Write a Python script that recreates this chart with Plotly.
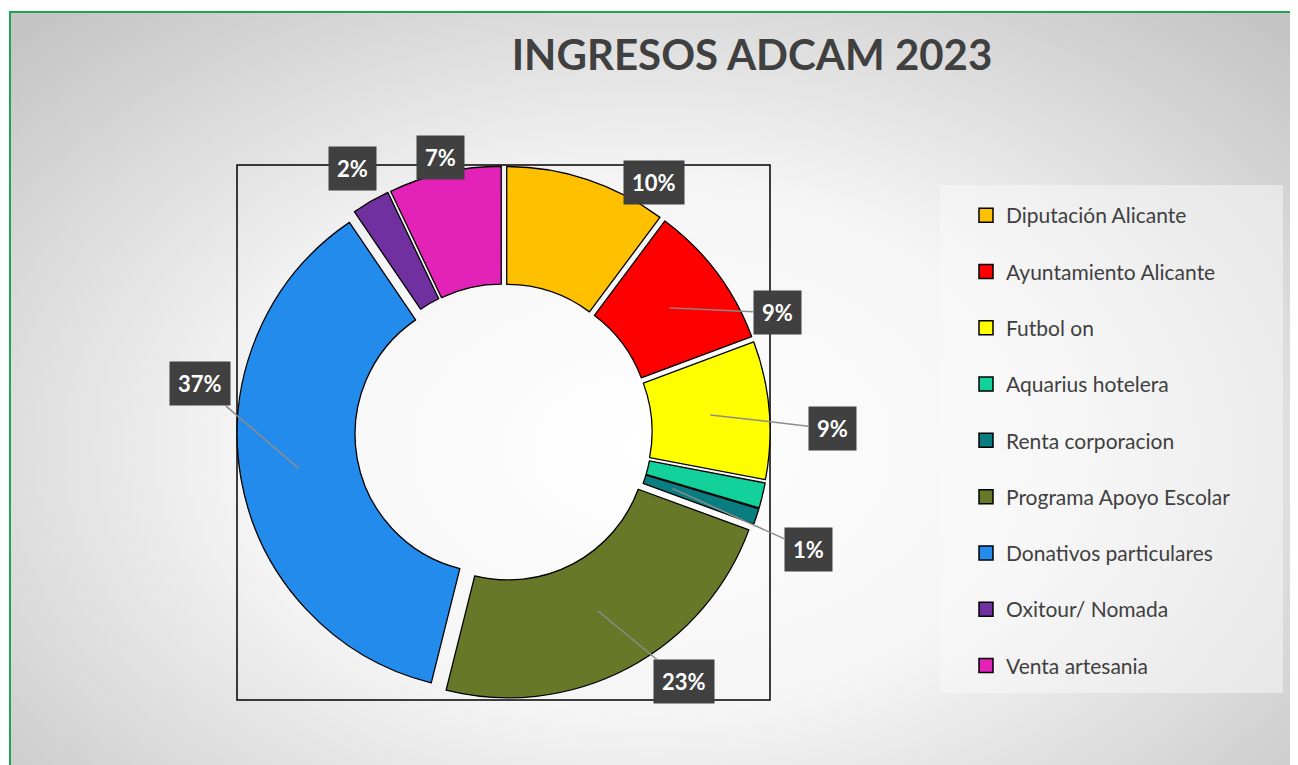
import math
import base64
import plotly.graph_objects as go

# datos
categorias = ['Diputación Alicante', 'Ayuntamiento Alicante', 'Futbol on',
              'Aquarius hotelera', 'Renta corporacion', 'Programa Apoyo Escolar',
              'Donativos particulares', 'Oxitour/ Nomada', 'Venta artesania']
valores = [10.2, 9.1, 8.7, 1.6, 1.0, 23.3, 36.6, 2.4, 7.1]
colores = ['#FFC000', '#FF0000', '#FFFF00', '#12D19B', '#0A7D80',
           '#677828', '#228BEC', '#7030A0', '#E322B8']
mostrar_etiqueta = [True, True, True, False, True, True, True, True, True]

W, H = 1298, 765
OFF = 8  # margen del body de la pagina


def fx(p):
    return (p - OFF) / W


def fy(p):
    return 1 - (p - OFF) / H


# zona del grafico (pixeles de pantalla)
px0, px1, py0, py1 = 237, 770, 165, 700
hole = 0.54
pull = 0.04

# desplazamiento de cada etiqueta (pixeles) y si lleva linea guia
etiqueta_pos = [
    dict(f=0.5, ax=85, ay=-53, linea=False),
    dict(f=0.5, ax=108, ay=5, linea=True),
    dict(f=0.5, ax=122, ay=14, linea=True),
    dict(f=0.5, ax=0, ay=0, linea=False),
    dict(f=0.25, ax=136, ay=61, linea=True),
    dict(f=0.45, ax=86, ay=71, linea=True),
    dict(f=0.5, ax=-99, ay=-85, linea=True),
    dict(f=0.5, ax=-48, ay=-84, linea=False),
    dict(f=0.5, ax=-17, ay=-73, linea=False),
]

FONT = 'Lato'

fig = go.Figure()

fig.add_trace(go.Pie(
    labels=categorias,
    values=valores,
    sort=False,
    direction='clockwise',
    rotation=0,
    hole=hole,
    pull=[pull] * len(valores),
    marker=dict(colors=colores, line=dict(color='black', width=1.3)),
    textinfo='none',
    showlegend=False,
    domain=dict(x=[fx(px0), fx(px1)], y=[fy(py1), fy(py0)]),
))

# leyenda con trazas auxiliares (para poder separar las entradas)
for i, (cat, col) in enumerate(zip(categorias, colores)):
    fig.add_trace(go.Scatter(
        x=[None], y=[None], mode='markers', name=cat,
        legendgroup='g%d' % i,
        marker=dict(symbol='square', size=14, color=col,
                    line=dict(color='black', width=1.5)),
    ))

# etiquetas de porcentaje
cx = (px0 + px1) / 2
cy = (py0 + py1) / 2
r = min(px1 - px0, py1 - py0) / 2 / (1 + pull)
ri = r * hole
total = sum(valores)
acum = 0
annotations = []
for i, v in enumerate(valores):
    mid = (acum + v / 2) / total * 2 * math.pi
    acum += v
    if not mostrar_etiqueta[i]:
        continue
    p = etiqueta_pos[i]
    dist = ri + p['f'] * (r - ri) + pull * r
    xa = cx + dist * math.sin(mid)
    ya = cy - dist * math.cos(mid)
    annotations.append(dict(
        x=fx(xa), y=fy(ya), xref='paper', yref='paper',
        text='<b>%d%%</b>' % round(v / total * 100),
        showarrow=True, arrowhead=0, arrowwidth=1.5,
        arrowcolor='#8c8c8c' if p['linea'] else 'rgba(0,0,0,0)',
        ax=p['ax'], ay=p['ay'],
        bgcolor='#404040', borderpad=8,
        font=dict(family=FONT, size=22, color='white'),
    ))

# fondo degradado radial
svg = ('<svg xmlns="http://www.w3.org/2000/svg" width="1283" height="840" preserveAspectRatio="none">'
       '<defs><radialGradient id="g" cx="50%" cy="52%" r="70%">'
       '<stop offset="0" stop-color="#ffffff"/>'
       '<stop offset="0.45" stop-color="#f5f5f5"/>'
       '<stop offset="1" stop-color="#c4c4c4"/>'
       '</radialGradient></defs>'
       '<rect width="1283" height="840" fill="url(#g)"/></svg>')
src = 'data:image/svg+xml;base64,' + base64.b64encode(svg.encode()).decode()

fig.update_layout(
    width=W, height=H,
    margin=dict(l=0, r=0, t=0, b=0),
    paper_bgcolor='white',
    plot_bgcolor='rgba(0,0,0,0)',
    xaxis=dict(visible=False),
    yaxis=dict(visible=False),
    title=dict(text='<b>INGRESOS ADCAM 2023</b>', x=fx(752), xanchor='center',
               y=fy(55), yanchor='middle',
               font=dict(family=FONT, size=42, color='#404040')),
    legend=dict(x=fx(966), xanchor='left', y=fy(195), yanchor='top',
                traceorder='grouped', tracegroupgap=26,
                bgcolor='rgba(0,0,0,0)', itemsizing='trace',
                font=dict(family=FONT, size=21, color='#404040')),
    annotations=annotations,
    images=[dict(source=src, xref='paper', yref='paper', x=fx(10), y=fy(12),
                 sizex=1283 / W, sizey=840 / H, sizing='stretch', layer='below')],
    shapes=[
        dict(type='rect', xref='paper', yref='paper', x0=fx(940), x1=fx(1283),
             y0=fy(693), y1=fy(185), line=dict(width=0),
             fillcolor='rgba(250,250,250,0.5)', layer='below'),
        dict(type='rect', xref='paper', yref='paper', x0=fx(px0), x1=fx(px1),
             y0=fy(py1), y1=fy(py0), line=dict(color='black', width=1.5),
             layer='below'),
        dict(type='rect', xref='paper', yref='paper', x0=fx(10), x1=fx(1293),
             y0=fy(790), y1=fy(12), line=dict(color='#22A352', width=2)),
    ],
)

fig.write_html('out.html')
